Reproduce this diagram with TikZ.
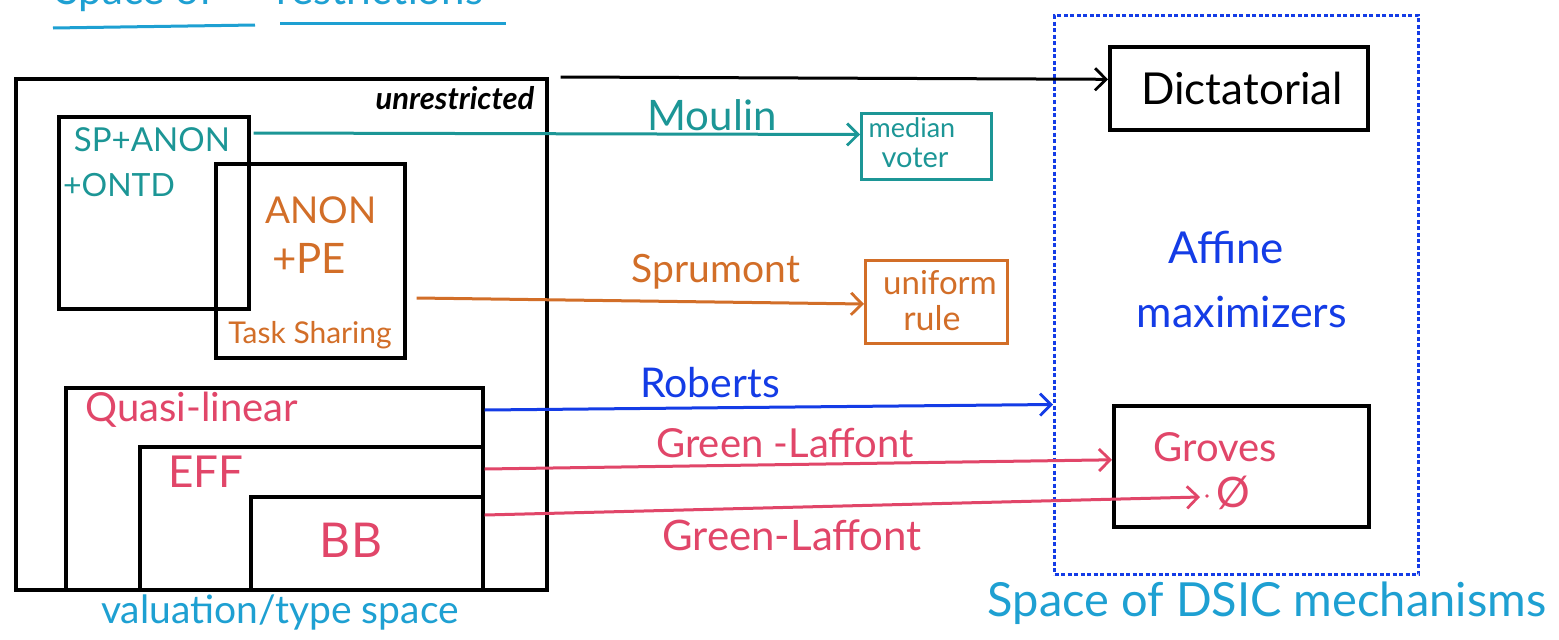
\documentclass[tikz,border=0pt]{standalone}
\usepackage{fontspec}
\setmainfont{Lato}
\usetikzlibrary{arrows.meta,calc}
\definecolor{tealc}{RGB}{28,150,150}
\definecolor{orng}{RGB}{210,110,40}
\definecolor{blu}{RGB}{20,60,230}
\definecolor{rd}{RGB}{225,70,105}
\definecolor{sky}{RGB}{30,160,210}
\newcommand{\fs}[1]{\fontsize{#1}{#1}\selectfont}
\begin{document}
\begin{tikzpicture}[x=1pt,y=-1pt,
  box/.style={draw=black, line width=3.6pt, inner sep=0pt, anchor=north west},
  lbl/.style={inner sep=0pt},
  arr/.style={line width=3pt, -{Straight Barb[length=11pt,width=22pt,line width=2.8pt]}}]
\useasboundingbox[fill=white] (0,0) rectangle (1559,640);
% title (cut off at top, as in the reference)
\begin{scope}
\clip (0,0) rectangle (1559,640);
\node[lbl, anchor=base, text=sky, font=\fs{42}] (t1) at (135,4) {Space of};
\node[lbl, anchor=base, text=sky, font=\fs{42}] (t2) at (380,4) {restrictions};
\end{scope}
\draw[sky, line width=3pt] (53,28) -- (255,25);
\draw[sky, line width=3pt] (280,23) -- (506,23);
% left boxes
\node[box, minimum width=531pt, minimum height=511pt] (outer) at (14,77) {};
\node[box, minimum width=190pt, minimum height=192pt] (sp) at (57,115) {};
\node[box, minimum width=189pt, minimum height=194pt] (anon) at (214,162) {};
\node[box, minimum width=417pt, minimum height=202pt] (ql) at (64,386) {};
\node[box, minimum width=343pt, minimum height=143pt] (eff) at (138,445) {};
\node[box, minimum width=232pt, minimum height=93pt] (bb) at (249,495) {};
% left labels
\node[lbl, font=\itshape\bfseries\fs{31}] (unr) at (455,98) {unrestricted};
\node[lbl, text=tealc, font=\fs{33}] (spl) at (152,140) {SP+ANON};
\node[lbl, text=tealc, font=\fs{32}] (ontd) at (119,185) {+ONTD};
\node[lbl, text=orng, font=\fs{37}] (anl) at (321,210) {ANON};
\node[lbl, text=orng, font=\fs{42}] (pe) at (309,258) {+PE};
\node[lbl, text=orng, font=\fs{30}] (ts) at (310,335) {Task Sharing};
\node[lbl, text=rd, font=\fs{40}] (qll) at (192,410) {Quasi-linear};
\node[lbl, text=rd, font=\fs{44}] (effl) at (206,472) {EFF};
\node[lbl, text=rd, font=\fs{48}] (bbl) at (351,540) {BB};
\node[lbl, text=sky, font=\fs{39}] (val) at (280,612) {valuation/type space};
% right side
\node[box, draw=blu, line width=3pt, dash pattern=on 4pt off 2.5pt, minimum width=364pt, minimum height=559pt] (dsic) at (1053,14) {};
\node[box, minimum width=258pt, minimum height=83pt] (dict) at (1108,45) {};
\node[box, minimum width=255pt, minimum height=121pt] (grv) at (1112,404) {};
\node[lbl, font=\fs{44}] (dictl) at (1242,88) {Dictatorial};
\node[lbl, text=blu, font=\fs{44}] (aff) at (1226,247) {Affine};
\node[lbl, text=blu, font=\fs{43}] (maxl) at (1242,312) {maximizers};
\node[lbl, text=rd, font=\fs{40}] (grvl) at (1215,447) {Groves};
\node[lbl, text=rd, font=\fs{42}] (phi) at (1233,493) {Ø};
\node[lbl, text=sky, font=\fs{47}] (dsicl) at (1267,603) {Space of DSIC mechanisms};
% middle boxes
\node[box, draw=tealc, line width=3pt, minimum width=130pt, minimum height=66pt] (mv) at (860,112) {};
\node[lbl, text=tealc, font=\fs{27}] (mvl1) at (912,128) {median};
\node[lbl, text=tealc, font=\fs{29}] (mvl2) at (915,158) {voter};
\node[box, draw=orng, line width=3pt, minimum width=142pt, minimum height=83pt] (ur) at (864,259) {};
\node[lbl, text=orng, font=\fs{33}] (url1) at (940,283) {uniform};
\node[lbl, text=orng, font=\fs{34}] (url2) at (932,318) {rule};
% arrow labels
\node[lbl, text=tealc, font=\fs{42}] (moul) at (712,115) {Moulin};
\node[lbl, text=orng, font=\fs{39}] (spru) at (716,272) {Sprumont};
\node[lbl, text=blu, font=\fs{41}] (rob) at (710,383) {Roberts};
\node[lbl, text=rd, font=\fs{40}] (gl1) at (785,443) {Green -Laffont};
\node[lbl, text=rd, font=\fs{42}] (gl2) at (792,535) {Green-Laffont};
% arrows
\draw[arr, black] ([xshift=12pt]outer.north east) -- ([yshift=9pt]dict.west);
\draw[arr, tealc] ([xshift=3pt,yshift=-18pt]sp.north east) -- ([yshift=12pt]mv.west);
\draw[arr, orng] ([xshift=10pt,yshift=-136pt]anon.north east) -- ([yshift=-2pt]ur.west);
\draw[arr, blu] ([yshift=-24pt]ql.north east) -- ([yshift=-109.5pt]dsic.west);
\draw[arr, rd] ([yshift=-24pt]eff.north east) -- ([yshift=6.5pt]grv.west);
\draw[arr, rd] ([yshift=-20pt]bb.north east) -- ([xshift=-16pt,yshift=-4pt]phi.west);
\fill[rd] ([xshift=-9pt,yshift=-3pt]phi.west) circle (1.8pt);
\end{tikzpicture}
\end{document}
